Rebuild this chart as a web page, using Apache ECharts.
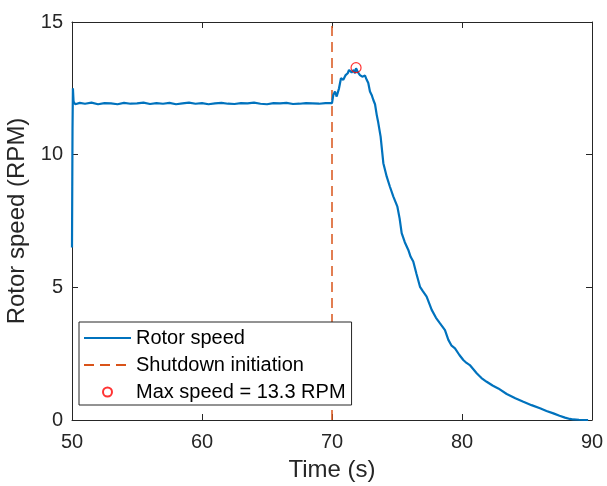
<!DOCTYPE html>
<html><head><meta charset="utf-8">
<script src="https://cdn.jsdelivr.net/npm/echarts@6/dist/echarts.min.js"></script>
<style>html,body{margin:0;padding:0;background:#fff}#c{width:607px;height:486px}</style>
</head><body><div id="c"></div>
<script>
const timeS = [50,50.04,50.07,50.12,50.25,50.6,51,51.5,52,52.5,53,53.5,54,54.5,55,55.5,56,56.5,57,57.5,58,58.5,59,59.5,60,60.5,61,61.5,62,62.5,63,63.5,64,64.5,65,65.5,66,66.5,67,67.5,68,68.5,69,69.5,70,
  70.1,70.23,70.36,70.54,70.69,70.87,71.05,71.21,71.31,71.51,71.67,71.77,71.85,72.0,72.15,72.33,72.54,72.67,72.79,72.92,73.05,73.18,73.31,73.44,73.56,73.74,73.95,74.21,74.45,74.72,75.03,75.2,75.36,75.6,75.87,76.05,76.25,76.5,76.77,77.0,77.28,77.67,78.0,78.31,78.69,78.95,79.2,79.46,79.8,80.1,80.35,80.6,81.13,81.5,81.9,82.35,82.79,83.44,84.1,84.72,85.35,86.0,86.5,87.03,87.5,87.92,88.3,88.56,89.0,89.7];
const rotorSpeed = [6.5,11.0,12.5,12.0,11.9,11.95,11.92,11.96,11.9,11.94,11.93,11.9,11.95,11.92,11.93,11.96,11.91,11.94,11.92,11.95,11.9,11.93,11.96,11.92,11.94,11.9,11.93,11.95,11.92,11.91,11.94,11.93,11.96,11.92,11.9,11.94,11.93,11.95,11.91,11.92,11.94,11.93,11.92,11.94,11.94,
  12.25,12.38,12.19,12.5,12.88,12.82,13.0,13.07,13.19,13.1,13.19,13.07,13.26,13.1,13.0,12.94,12.98,12.82,12.7,12.38,12.25,12.06,11.9,11.5,11.2,10.68,9.68,9.17,8.8,8.42,8.04,7.6,7.04,6.7,6.41,6.15,5.97,5.5,5.02,4.85,4.65,4.15,3.85,3.64,3.39,3.02,2.8,2.7,2.45,2.26,2.15,2.07,1.76,1.58,1.44,1.3,1.19,0.98,0.82,0.69,0.56,0.44,0.34,0.25,0.16,0.09,0.04,0.02,0.01,0];
const shutdownTime = [70, 70];
const shutdownY = [0, 15];
const maxPoint = [71.85, 13.28];
const xTicks = [50,60,70,80,90];
const yTicks = [0,5,10,15];

const axisColor = '#262626';
const chart = echarts.init(document.getElementById('c'));
const baseX = {
  type:'value', min:xTicks[0], max:xTicks[xTicks.length-1], interval:10,
  axisLine:{show:true, onZero:false, lineStyle:{color:axisColor, width:1}},
  axisTick:{show:true, inside:true, length:6, lineStyle:{color:axisColor}},
  splitLine:{show:false}
};
const baseY = {
  type:'value', min:yTicks[0], max:yTicks[yTicks.length-1], interval:5,
  axisLine:{show:true, onZero:false, lineStyle:{color:axisColor, width:1}},
  axisTick:{show:true, inside:true, length:6, lineStyle:{color:axisColor}},
  splitLine:{show:false}
};
chart.setOption({
  animation:false,
  textStyle:{fontFamily:'Liberation Sans, Arial, sans-serif'},
  grid:{left:72, right:15, top:22, bottom:66, containLabel:false, outerBoundsMode:'none'},
  xAxis:[
    Object.assign({}, baseX, {position:'bottom', name:'Time (s)', nameLocation:'middle', nameGap:38,
      nameTextStyle:{fontSize:24, color:axisColor},
      axisLabel:{fontSize:20, color:axisColor, margin:12}}),
    Object.assign({}, baseX, {position:'top', axisLabel:{show:false}})
  ],
  yAxis:[
    Object.assign({}, baseY, {position:'left', name:'Rotor speed (RPM)', nameLocation:'middle', nameGap:37,
      nameTextStyle:{fontSize:24, color:axisColor},
      axisLabel:{fontSize:20, color:axisColor, margin:9}}),
    Object.assign({}, baseY, {position:'right', axisLabel:{show:false}})
  ],
  legend:{
    orient:'vertical', left:79, top:322, itemWidth:47, itemHeight:9, itemGap:7,
    backgroundColor:'#fff', borderColor:axisColor, borderWidth:1,
    padding:[6,6,3,4],
    textStyle:{fontSize:20, color:'#000'},
    data:[
      {name:'Rotor speed', itemStyle:{opacity:0}},
      {name:'Shutdown initiation', itemStyle:{opacity:0}},
      {name:'Max speed = 13.3 RPM'}
    ]
  },
  series:[
    {name:'Rotor speed', type:'line', showSymbol:false, symbol:'none',
     data:timeS.map((t,i)=>[t, rotorSpeed[i]]),
     lineStyle:{color:'#0072BD', width:2.2}, itemStyle:{color:'#0072BD'}, z:3},
    {name:'Shutdown initiation', type:'line', symbol:'none',
     data:shutdownTime.map((t,i)=>[t, shutdownY[i]]),
     lineStyle:{color:'#D95319', width:1.5, type:[10,6]}, itemStyle:{color:'#D95319'}, z:2},
    {name:'Max speed = 13.3 RPM', type:'scatter', symbol:'circle', symbolSize:10,
     data:[maxPoint],
     itemStyle:{color:'transparent', borderColor:'#FF0000', borderWidth:1.2}, z:4}
  ]
});
</script></body></html>
